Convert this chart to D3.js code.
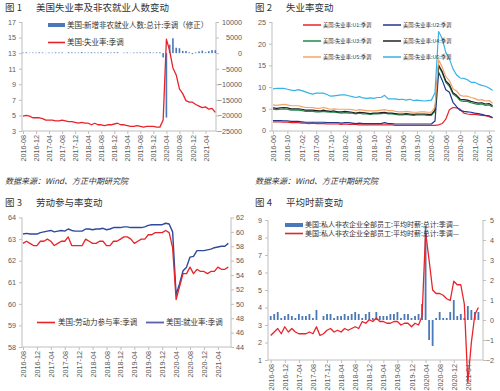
<!DOCTYPE html>
<html><head><meta charset="utf-8">
<script src="https://cdn.jsdelivr.net/npm/d3@7"></script>
<style>
body{margin:0;background:#fff}
svg{display:block}
.num{font-family:"Liberation Sans",Arial,sans-serif}
.cjk{font-family:"Noto Sans CJK SC",sans-serif}
</style></head><body>
<svg id="c" width="500" height="391"></svg>
<script>
// ---------- categories ----------
const fmt = d3.timeFormat("%Y-%m");
const months60 = d3.timeMonth.range(new Date(2016,7,1), new Date(2021,7,1)).map(fmt); // 2016-08..2021-07
const months62 = d3.timeMonth.range(new Date(2016,5,1), new Date(2021,7,1)).map(fmt); // 2016-06..2021-07
const xTicksA = ["2016-08","2016-12","2017-04","2017-08","2017-12","2018-04","2018-08","2018-12","2019-04","2019-08","2019-12","2020-04","2020-08","2020-12","2021-04"];
const xTicksB = ["2016-06","2016-10","2017-02","2017-06","2017-10","2018-02","2018-06","2018-10","2019-02","2019-06","2019-10","2020-02","2020-06","2020-10","2021-02","2021-06"];

// ---------- chart 1 ----------
const unemp = [4.9,5.0,4.9,4.7,4.7,
 4.7,4.6,4.4,4.4,4.4,4.3,4.3,4.4,4.3,4.2,4.2,4.1,
 4.0,4.1,4.0,4.0,3.8,4.0,3.8,3.8,3.7,3.8,3.8,3.9,
 4.0,3.8,3.8,3.7,3.6,3.6,3.7,3.6,3.5,3.6,3.6,3.6,
 3.5,3.5,4.4,14.8,13.3,11.1,10.2,8.4,7.8,6.9,6.7,6.7,
 6.4,6.2,6.0,6.1,5.8,5.9,5.4];
const payrolls = [176,249,124,164,155,
 259,195,73,175,155,239,190,221,18,271,216,175,
 176,324,155,175,268,208,178,282,108,277,196,227,
 269,1,147,210,85,182,194,207,208,185,261,184,
 214,251,-1373,-20679,2725,4781,1726,1583,716,680,264,-306,
 233,536,785,269,614,962,943];
const ticks1L = [3,5,7,9,11,13,15,17];
const ticks1R = [-25000,-20000,-15000,-10000,-5000,0,5000,10000];

// ---------- chart 2 ----------
const U1 = [2.0,2.0,2.0,1.9,1.9,1.8,1.8,
 1.8,1.7,1.7,1.6,1.7,1.6,1.6,1.6,1.5,1.5,1.5,1.5,
 1.4,1.5,1.4,1.4,1.4,1.3,1.3,1.3,1.3,1.3,1.3,1.3,
 1.3,1.3,1.3,1.2,1.2,1.2,1.2,1.2,1.2,1.2,1.2,1.2,
 1.2,1.2,1.2,1.3,1.6,2.6,4.8,5.3,5.2,4.9,4.0,3.8,
 3.7,3.7,3.6,3.5,3.4,3.2,2.9];
const U2 = [2.3,2.3,2.3,2.2,2.2,2.1,2.1,
 2.1,2.0,1.9,1.9,1.9,1.9,1.9,1.9,1.8,1.8,1.8,1.8,
 1.7,1.8,1.8,1.7,1.6,1.7,1.6,1.6,1.6,1.6,1.6,1.6,
 1.8,1.6,1.6,1.5,1.5,1.5,1.5,1.5,1.5,1.5,1.5,1.5,
 1.5,1.5,2.2,13.4,11.6,9.4,8.8,6.5,5.5,4.6,4.4,4.3,
 4.2,4.0,3.9,3.7,3.5,3.4,3.0];
const U3 = [4.9,4.8,4.9,5.0,4.9,4.7,4.7,
 4.7,4.6,4.4,4.4,4.4,4.3,4.3,4.4,4.3,4.2,4.2,4.1,
 4.0,4.1,4.0,4.0,3.8,4.0,3.8,3.8,3.7,3.8,3.8,3.9,
 4.0,3.8,3.8,3.7,3.6,3.6,3.7,3.6,3.5,3.6,3.6,3.6,
 3.5,3.5,4.4,14.8,13.3,11.1,10.2,8.4,7.8,6.9,6.7,6.7,
 6.4,6.2,6.0,6.1,5.8,5.9,5.4];
const U4 = [5.2,5.1,5.2,5.3,5.2,5.0,5.0,
 5.0,4.9,4.7,4.7,4.7,4.6,4.5,4.7,4.5,4.4,4.5,4.3,
 4.3,4.4,4.3,4.2,4.0,4.2,4.1,4.0,3.9,4.0,4.0,4.1,
 4.2,4.0,4.0,3.9,3.8,3.8,3.9,3.8,3.7,3.8,3.8,3.8,
 3.7,3.7,4.7,15.1,13.6,11.4,10.6,8.7,8.1,7.2,7.1,7.0,
 6.7,6.5,6.3,6.4,6.1,6.2,5.7];
const U5 = [5.9,5.8,5.9,6.0,5.9,5.7,5.7,
 5.7,5.5,5.3,5.3,5.3,5.1,5.1,5.3,5.1,4.9,5.0,4.9,
 4.9,4.9,4.9,4.8,4.6,4.8,4.7,4.6,4.5,4.5,4.6,4.7,
 4.8,4.6,4.6,4.4,4.3,4.3,4.4,4.3,4.2,4.2,4.3,4.3,
 4.2,4.2,5.4,16.3,14.6,12.4,11.5,9.6,9.1,8.1,7.9,7.9,
 7.6,7.4,7.0,7.1,6.8,6.9,6.3];
const U6 = [9.6,9.7,9.7,9.7,9.5,9.3,9.2,
 9.4,9.2,8.9,8.6,8.4,8.6,8.6,8.6,8.3,7.9,8.0,8.1,
 8.2,8.2,8.0,7.8,7.6,7.8,7.5,7.4,7.5,7.4,7.6,7.6,
 8.1,7.3,7.3,7.3,7.1,7.2,7.0,7.2,6.9,7.0,6.9,6.8,
 6.9,7.0,8.7,22.8,21.2,18.0,16.5,14.2,12.8,12.1,12.0,11.7,
 11.1,11.1,10.7,10.4,10.2,9.8,9.2];
const uNames = ["美国:失业率:U1:季调","美国:失业率:U2:季调","美国:失业率:U3:季调","美国:失业率:U4:季调","美国:失业率:U5:季调","美国:失业率:U6:季调"];
const uColors = ["#e8232a","#22358f","#1f8a4c","#222222","#f4a468","#37b2e6"];
const ticks2 = [0,5,10,15,20,25];

// ---------- chart 3 ----------
const lfpr = [62.8,62.9,62.8,62.7,62.7,
 62.9,62.9,63.0,62.9,62.7,62.8,62.9,62.9,63.1,62.7,62.7,62.7,
 62.7,63.0,62.9,62.8,62.8,62.9,62.9,62.7,62.7,62.9,62.9,63.0,
 63.1,63.1,63.0,62.8,62.9,63.0,63.0,63.2,63.2,63.3,63.3,63.3,
 63.4,63.3,62.6,60.2,60.8,61.4,61.4,61.7,61.4,61.6,61.5,61.5,
 61.4,61.5,61.5,61.7,61.6,61.6,61.7];
const epop = [59.7,59.8,59.7,59.7,59.7,
 59.9,60.0,60.1,60.2,60.0,60.1,60.2,60.1,60.4,60.2,60.1,60.1,
 60.1,60.4,60.4,60.3,60.4,60.4,60.5,60.3,60.4,60.6,60.6,60.6,
 60.7,60.7,60.6,60.6,60.6,60.6,60.7,60.9,61.0,61.0,61.0,61.0,
 61.2,61.1,60.0,51.3,52.8,54.6,55.1,56.5,56.6,57.4,57.4,57.4,
 57.5,57.6,57.8,57.9,58.0,58.0,58.4];
const ticks3L = [58,59,60,61,62,63,64];
const ticks3R = [44,46,48,50,52,54,56,58,60,62];

// ---------- chart 4 ----------
const wageYoY = [2.4,2.6,2.8,2.5,2.9,
 2.6,2.8,2.6,2.5,2.5,2.5,2.6,2.5,2.9,2.4,2.5,2.7,
 2.8,2.6,2.7,2.6,2.8,2.7,2.8,2.9,2.8,3.2,3.1,3.3,
 3.2,3.4,3.2,3.2,3.1,3.1,3.2,3.2,3.0,3.1,3.1,2.9,
 3.1,3.0,3.5,8.3,6.7,5.0,4.8,4.8,4.7,4.5,4.4,5.5,
 5.3,5.3,4.2,-0.3,2.0,3.6,4.0];
const wageMoM = [0.2,0.3,0.4,0.1,0.2,
 0.3,0.2,0.1,0.3,0.2,0.2,0.3,0.1,0.5,0.0,0.2,0.3,
 0.3,0.1,0.2,0.2,0.3,0.2,0.3,0.4,0.3,0.1,0.3,0.4,
 0.1,0.4,0.2,0.2,0.2,0.3,0.3,0.4,0.1,0.3,0.3,0.1,
 0.2,0.3,0.8,4.7,-1.0,-1.3,0.1,0.4,0.1,0.1,0.4,1.0,
 0.2,0.3,0.1,0.7,0.5,0.4,0.4];
const ticks4L = [1,2,3,4,5,6,7,8,9];
const ticks4R = [-2,-1,0,1,2,3,4,5];

// ---------- drawing helpers ----------
const svg = d3.select("#c");
const AX = "#bfbfbf", TX = "#595959", RED = "#e8232a", BLUE = "#4a78b8";
const intFmt = d3.format("d");

function title(x, y, num, txt){
  const t = svg.append("text").attr("class","cjk").attr("x",x).attr("y",y)
    .attr("font-size",9.5).attr("fill","#333");
  t.append("tspan").text("图 " + num);
  t.append("tspan").attr("dx",14).text(txt);
}
function source(x, y){
  svg.append("text").attr("class","cjk").attr("x",x).attr("y",y)
    .attr("font-size",8).attr("font-style","italic").attr("fill","#333")
    .text("数据来源：Wind、方正中期研究院");
}
function styleAxis(g, fs){
  g.select(".domain").remove();
  g.selectAll("line").attr("stroke",AX);
  g.selectAll("text").attr("class","num").attr("fill",TX).attr("font-size",fs||7.2);
}
function hline(x1,x2,y){ svg.append("line").attr("x1",x1).attr("x2",x2).attr("y1",y).attr("y2",y).attr("stroke",AX); }
function vline(x,y1,y2){ svg.append("line").attr("x1",x).attr("x2",x).attr("y1",y1).attr("y2",y2).attr("stroke",AX); }
function xAxis(x, ticks, y, x1, x2){
  hline(x1, x2, y);
  const g = svg.append("g").attr("transform",`translate(0,${y})`)
    .call(d3.axisBottom(x).tickValues(ticks).tickSize(3).tickSizeOuter(0));
  styleAxis(g);
  g.selectAll("text").attr("transform","rotate(-90)").attr("text-anchor","end")
    .attr("x",-4).attr("y",0).attr("dy","0.35em");
}
function yLeft(y, ticks, xpos, y1, y2){
  vline(xpos, y1, y2);
  const ax = d3.axisLeft(y).tickValues(ticks).tickSize(3).tickSizeOuter(0).tickPadding(3).tickFormat(intFmt);
  styleAxis(svg.append("g").attr("transform",`translate(${xpos},0)`).call(ax));
}
function yRight(y, ticks, xpos, y1, y2, anchorEnd, pad){
  vline(xpos, y1, y2);
  const ax = d3.axisRight(y).tickValues(ticks).tickSize(3).tickSizeOuter(0).tickPadding(pad||2).tickFormat(intFmt);
  const g = svg.append("g").attr("transform",`translate(${xpos},0)`).call(ax);
  styleAxis(g);
  if (anchorEnd) g.selectAll("text").attr("text-anchor","end").attr("x",anchorEnd);
}
function line(x, y, cats, vals, color, w){
  svg.append("path").datum(vals)
    .attr("d", d3.line().x((d,i)=>x(cats[i])).y(d=>y(d)))
    .attr("fill","none").attr("stroke",color).attr("stroke-width",w||1.3)
    .attr("stroke-linejoin","round");
}
function bars(x, y, cats, vals, color, w){
  svg.append("g").selectAll("rect").data(vals).join("rect")
    .attr("x",(d,i)=>x(cats[i]) - w/2).attr("width",w)
    .attr("y",d=>Math.min(y(d), y(0)))
    .attr("height",d=>Math.abs(y(d)-y(0)))
    .attr("fill",color);
}
function legText(x, y, txt, fs){
  svg.append("text").attr("class","cjk").attr("x",x).attr("y",y).attr("dy","0.35em")
    .attr("font-size",fs).attr("fill","#333").text(txt);
}
function legLine(x1, x2, y, color, w){
  svg.append("line").attr("x1",x1).attr("x2",x2).attr("y1",y).attr("y2",y)
    .attr("stroke",color).attr("stroke-width",w||1.6);
}
function legRect(x, y, w, h, color){
  svg.append("rect").attr("x",x).attr("y",y).attr("width",w).attr("height",h).attr("fill",color);
}

// ---------- chart 1 ----------
title(5, 11, "1", "美国失业率及非农就业人数变动");
const x1 = d3.scalePoint().domain(months60).range([23, 215.3]);
const y1L = d3.scaleLinear().domain([3,17]).range([131,22]);
const y1R = d3.scaleLinear().domain([-25000,10000]).range([131,22]);
yLeft(y1L, ticks1L, 22, 22, 131);
yRight(y1R, ticks1R, 216, 22, 131, 26, 2);
xAxis(x1, xTicksA, 131, 22, 216);
bars(x1, y1R, months60, payrolls, BLUE, 1.6);
line(x1, y1L, months60, unemp, RED, 1.3);
legRect(48, 23, 17, 4, BLUE);
legText(67, 25, "美国:新增非农就业人数:总计:季调（修正）", 7.5);
legLine(48, 65, 42.5, RED);
legText(67, 42.5, "美国:失业率:季调", 7.5);
source(5, 184);

// ---------- chart 2 ----------
title(255, 11, "2", "失业率变动");
const x2 = d3.scalePoint().domain(months62).range([273, 492.6]);
const y2 = d3.scaleLinear().domain([0,25]).range([130.5,22]);
yLeft(y2, ticks2, 272, 22, 131);
xAxis(x2, xTicksB, 131, 272, 495);
const uSeries = [U1,U2,U3,U4,U5,U6];
uSeries.forEach((s,k)=>line(x2, y2, months62, s, uColors[k], 1.2));
uNames.forEach((n,k)=>{
  const col = k % 2, row = Math.floor(k/2);
  const lx = col ? 383 : 303, ly = 25 + row*16;
  legLine(lx, lx+18, ly, uColors[k], 1.5);
  legText(lx+20, ly, n, 5.3);
});
source(255, 184);

// ---------- chart 3 ----------
title(5, 206, "3", "劳动参与率变动");
const x3 = d3.scalePoint().domain(months60).range([23, 228.3]);
const y3L = d3.scaleLinear().domain([58,64]).range([347,217.5]);
const y3R = d3.scaleLinear().domain([44,62]).range([347,217.5]);
yLeft(y3L, ticks3L, 22, 217.5, 347);
yRight(y3R, ticks3R, 231, 217.5, 347, null, 2);
xAxis(x3, xTicksA, 347, 22, 231);
line(x3, y3R, months60, epop, "#2f4a9c", 1.4);
line(x3, y3L, months60, lfpr, RED, 1.3);
legLine(37, 55, 322.5, RED, 1.6);
legText(58, 322.5, "美国:劳动力参与率:季调", 7.5);
legLine(146, 164, 322.5, "#5a5fb0", 1.8);
legText(166, 322.5, "美国:就业率:季调", 7.5);

// ---------- chart 4 ----------
title(255, 206, "4", "平均时薪变动");
const x4 = d3.scalePoint().domain(months60).range([270.7, 478.4]);
const y4L = d3.scaleLinear().domain([1,9]).range([360,220]);
const y4R = d3.scaleLinear().domain([-2,5]).range([360,220]);
yLeft(y4L, ticks4L, 268, 220, 360);
yRight(y4R, ticks4R, 483, 220, 360, 11, 2);
xAxis(x4, xTicksA, 360, 268, 483);
bars(x4, y4R, months60, wageMoM, BLUE, 1.8);
line(x4, y4L, months60, wageYoY, RED, 1.3);
legRect(285, 223, 18, 4, BLUE);
legText(305, 225, "美国:私人非农企业全部员工:平均时薪:总计:季调—", 7);
legLine(285, 303, 233.5, RED, 1.6);
legText(305, 233.5, "美国:私人非农企业全部员工:平均时薪:总计:季调—", 7);
</script>
</body></html>
